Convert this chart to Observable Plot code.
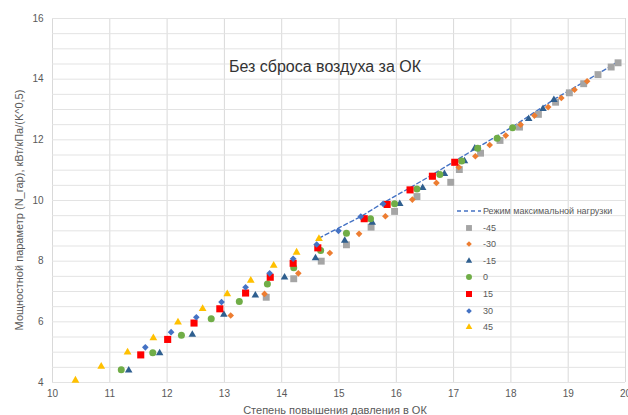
<!DOCTYPE html>
<html><head><meta charset="utf-8">
<script src="https://cdn.jsdelivr.net/npm/d3@7"></script>
<script src="https://cdn.jsdelivr.net/npm/@observablehq/plot@0.6"></script>
<style>
body{margin:0;background:#fff;}
#wrap{position:relative;width:628px;height:415px;overflow:hidden;font-family:"Liberation Sans",Arial,sans-serif;}
.ov{position:absolute;white-space:nowrap;}
</style></head><body><div id="wrap"></div>
<script>
// ---- data ----
const xTicks = [10, 11, 12, 13, 14, 15, 16, 17, 18, 19, 20];
const yTicks = [4, 6, 8, 10, 12, 14, 16];
const yGridStep = 0.5;

const titleText = "Без сброса воздуха за ОК";
const xLabel = "Степень повышения давления в ОК";
const yLabel = "Мощностной параметр (N_гар), кВт/кПа/(K^0,5)";
const lineName = "Режим максимальной нагрузки";

const seriesNames = ["-45", "-30", "-15", "0", "15", "30", "45"];

const xM45 = [13.73, 14.21, 14.69, 15.13, 15.56, 15.97, 16.36, 16.95, 17.10, 17.47, 17.81, 18.15, 18.48, 18.78, 19.02, 19.27, 19.52, 19.75, 19.87];
const yM45 = [6.81, 7.42, 8.00, 8.54, 9.12, 9.64, 10.13, 10.60, 11.02, 11.56, 11.98, 12.42, 12.84, 13.24, 13.55, 13.85, 14.15, 14.40, 14.54];

const xM30 = [13.11, 13.70, 14.29, 14.84, 15.35, 15.81, 16.28, 16.70, 17.09, 17.38, 17.63, 17.91, 18.17, 18.41, 18.65, 18.88, 19.11, 19.33];
const yM30 = [6.21, 6.92, 7.60, 8.27, 8.90, 9.48, 10.03, 10.58, 11.10, 11.46, 11.83, 12.14, 12.50, 12.80, 13.08, 13.38, 13.65, 13.93];

const xM15 = [11.33, 11.87, 12.44, 12.99, 13.54, 14.05, 14.59, 15.10, 15.58, 16.06, 16.46, 16.84, 17.19, 17.37, 18.31, 18.56, 18.75];
const yM15 = [4.40, 4.97, 5.58, 6.24, 6.87, 7.47, 8.10, 8.68, 9.27, 9.89, 10.42, 10.88, 11.30, 11.72, 12.69, 13.02, 13.32];

const x0 = [11.20, 11.75, 12.25, 12.77, 13.26, 13.75, 14.21, 14.68, 15.13, 15.55, 15.97, 16.36, 16.76, 17.14, 17.42, 17.76, 18.03];
const y0 = [4.42, 4.98, 5.56, 6.10, 6.67, 7.25, 7.78, 8.35, 8.92, 9.40, 9.89, 10.38, 10.86, 11.30, 11.72, 12.05, 12.40];

const x15 = [11.54, 12.01, 12.47, 12.92, 13.37, 13.80, 14.20, 14.63, 15.44, 15.84, 16.24, 16.63, 17.02];
const y15 = [4.91, 5.42, 5.96, 6.43, 6.95, 7.47, 7.93, 8.44, 9.40, 9.87, 10.35, 10.80, 11.26];

const x30 = [11.62, 12.07, 12.51, 12.95, 13.37, 13.79, 14.20, 14.61, 14.99, 15.38, 15.77];
const y30 = [5.16, 5.66, 6.15, 6.65, 7.14, 7.60, 8.08, 8.55, 9.00, 9.47, 9.89];

const x45 = [10.40, 10.85, 11.31, 11.76, 12.19, 12.62, 13.05, 13.46, 13.86, 14.26, 14.65];
const y45 = [4.07, 4.53, 5.00, 5.47, 5.99, 6.43, 6.92, 7.36, 7.86, 8.29, 8.74];

const xLine = [14.65, 14.99, 15.38, 15.77, 16.22, 16.63, 17.02, 17.42, 18.03, 18.75, 19.62, 19.87];
const yLine = [8.76, 9.09, 9.47, 9.92, 10.40, 10.85, 11.30, 11.75, 12.43, 13.33, 14.29, 14.58];

// ---- styling ----
const styles = {
  "-45": {symbol: "square",   fill: "#A5A5A5", r: 3.9},
  "-30": {symbol: "diamond2", fill: "#ED7D31", r: 3.0},
  "-15": {symbol: "triangle", fill: "#2F5F8F", r: 2.8},
  "0":   {symbol: "circle",   fill: "#70AD47", r: 3.5},
  "15":  {symbol: "square",   fill: "#FF0000", r: 4.0},
  "30":  {symbol: "diamond2", fill: "#4472C4", r: 3.0},
  "45":  {symbol: "triangle", fill: "#FFC000", r: 2.9}
};
const seriesData = {
  "-45": [xM45, yM45], "-30": [xM30, yM30], "-15": [xM15, yM15],
  "0": [x0, y0], "15": [x15, y15], "30": [x30, y30], "45": [x45, y45]
};
const toRows = (xs, ys) => xs.map((x, i) => ({x, y: ys[i]}));

const yGrid = d3.range(yTicks[0], yTicks[yTicks.length - 1] + 1e-9, yGridStep);

const chart = Plot.plot({
  width: 628, height: 415,
  marginLeft: 52, marginRight: 3, marginTop: 18, marginBottom: 33,
  x: {domain: [10, 20]},
  y: {domain: [4, 16]},
  style: {fontFamily: "'Liberation Sans', Arial, sans-serif", fontSize: "10px", color: "#595959", background: "#fff"},
  marks: [
    Plot.gridX(xTicks, {stroke: "#d9d9d9", strokeOpacity: 1}),
    Plot.gridY(yGrid, {stroke: "#e3e3e3", strokeOpacity: 1}),
    Plot.axisX({ticks: xTicks, tickSize: 0, tickPadding: 7, label: null, tickFormat: d3.format("d")}),
    Plot.axisY({ticks: yTicks, tickSize: 0, tickPadding: 9, label: null, tickFormat: d3.format("d")}),
    Plot.line(toRows(xLine, yLine), {x: "x", y: "y", stroke: "#4472C4", strokeWidth: 1.4, strokeDasharray: "4,3"}),
    ...seriesNames.map(n => Plot.dot(toRows(...seriesData[n]), {
      x: "x", y: "y", symbol: styles[n].symbol, fill: styles[n].fill, r: styles[n].r, stroke: "none"
    }))
  ]
});
const wrap = document.getElementById("wrap");
chart.style.position = "absolute"; chart.style.left = "0"; chart.style.top = "0";
wrap.appendChild(chart);

function addDiv(text, css) {
  const d = document.createElement("div");
  d.className = "ov"; d.textContent = text;
  Object.assign(d.style, css);
  wrap.appendChild(d);
  return d;
}
// title inside plot area
addDiv(titleText, {left: "325px", top: "67px", transform: "translate(-50%,-50%)", fontSize: "16px", color: "#333"});
// axis titles
addDiv(yLabel, {left: "19px", top: "210px", transform: "translate(-50%,-50%) rotate(-90deg)", fontSize: "11px", color: "#595959"});
addDiv(xLabel, {left: "335px", top: "410px", transform: "translate(-50%,-50%)", fontSize: "11px", color: "#595959"});

// legend
const legX = 469, legY0 = 211, legStep = 16.6;
const ns = "http://www.w3.org/2000/svg";
function legendRow(i, label, drawFn) {
  const y = legY0 + i * legStep;
  const svg = document.createElementNS(ns, "svg");
  svg.setAttribute("width", 28); svg.setAttribute("height", 12);
  svg.style.position = "absolute"; svg.style.left = (legX - 14) + "px"; svg.style.top = (y - 6) + "px";
  drawFn(svg);
  wrap.appendChild(svg);
  addDiv(label, {left: "483px", top: y + "px", transform: "translateY(-50%)", fontSize: "9px", color: "#595959"});
}
legendRow(0, lineName, svg => {
  const l = document.createElementNS(ns, "line");
  l.setAttribute("x1", 2); l.setAttribute("x2", 26); l.setAttribute("y1", 6); l.setAttribute("y2", 6);
  l.setAttribute("stroke", "#4472C4"); l.setAttribute("stroke-width", 1.4); l.setAttribute("stroke-dasharray", "4,3");
  svg.appendChild(l);
});
const symMap = {square: d3.symbolSquare, diamond2: d3.symbolDiamond2, triangle: d3.symbolTriangle, circle: d3.symbolCircle};
seriesNames.forEach((n, i) => {
  legendRow(i + 1, n, svg => {
    const p = document.createElementNS(ns, "path");
    const s = styles[n];
    const rr = s.r * 0.85;
    p.setAttribute("d", d3.symbol(symMap[s.symbol], Math.PI * rr * rr)());
    p.setAttribute("transform", "translate(14,6)");
    p.setAttribute("fill", s.fill);
    svg.appendChild(p);
  });
});
</script>
</body></html>
